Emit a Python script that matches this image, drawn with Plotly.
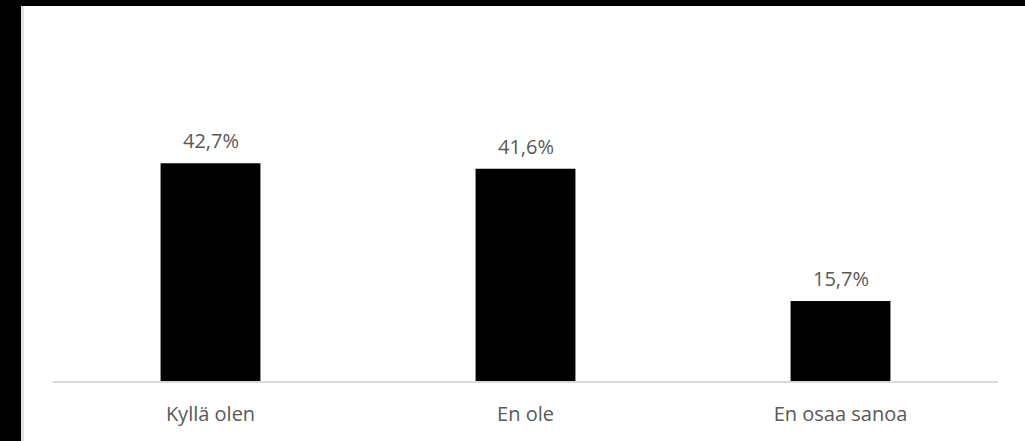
import plotly.graph_objects as go

categories = ["Kyllä olen", "En ole", "En osaa sanoa"]
values = [42.7, 41.6, 15.7]
labels = ["42,7%", "41,6%", "15,7%"]

W, H = 1025, 441
L, R, T, B = 53, 27, 126, 60
PW, PH = W - L - R, H - T - B


def xp(px):
    return (px - L) / PW


def yp(py):
    return (H - B - py) / PH


FONT = "Open Sans"
GRAY = "#595959"

fig = go.Figure()
fig.add_trace(go.Bar(
    x=categories, y=values, marker=dict(color="#000000", line=dict(width=0)),
    width=0.317, hoverinfo="skip",
))

for c, v, t in zip(categories, values, labels):
    fig.add_annotation(x=c, y=v, text=t, showarrow=False, yanchor="bottom",
                       yshift=7, font=dict(family=FONT, size=20, color=GRAY))

fig.update_layout(
    width=W, height=H,
    margin=dict(l=L, r=R, t=T, b=B, pad=0),
    paper_bgcolor="white", plot_bgcolor="white",
    showlegend=False,
    xaxis=dict(showgrid=False, showline=True, linecolor="#d9d9d9", linewidth=2,
               tickfont=dict(family=FONT, size=20, color=GRAY),
               ticks="", ticklabelstandoff=14, fixedrange=True),
    yaxis=dict(range=[0, 50], visible=False, showgrid=False, zeroline=False, fixedrange=True),
    shapes=[
        dict(type="rect", xref="paper", yref="paper", x0=xp(0), x1=xp(W), y0=yp(6), y1=yp(0),
             fillcolor="black", line=dict(width=0), layer="above"),
        dict(type="rect", xref="paper", yref="paper", x0=xp(0), x1=xp(21), y0=yp(H), y1=yp(0),
             fillcolor="black", line=dict(width=0), layer="above"),
        dict(type="rect", xref="paper", yref="paper", x0=xp(21), x1=xp(24), y0=yp(H), y1=yp(6),
             fillcolor="#e4e4e4", line=dict(width=0), layer="above"),
    ],
)
fig.write_html("out.html", config={"displayModeBar": False, "staticPlot": True},
               post_script="document.body.style.margin='0';")
